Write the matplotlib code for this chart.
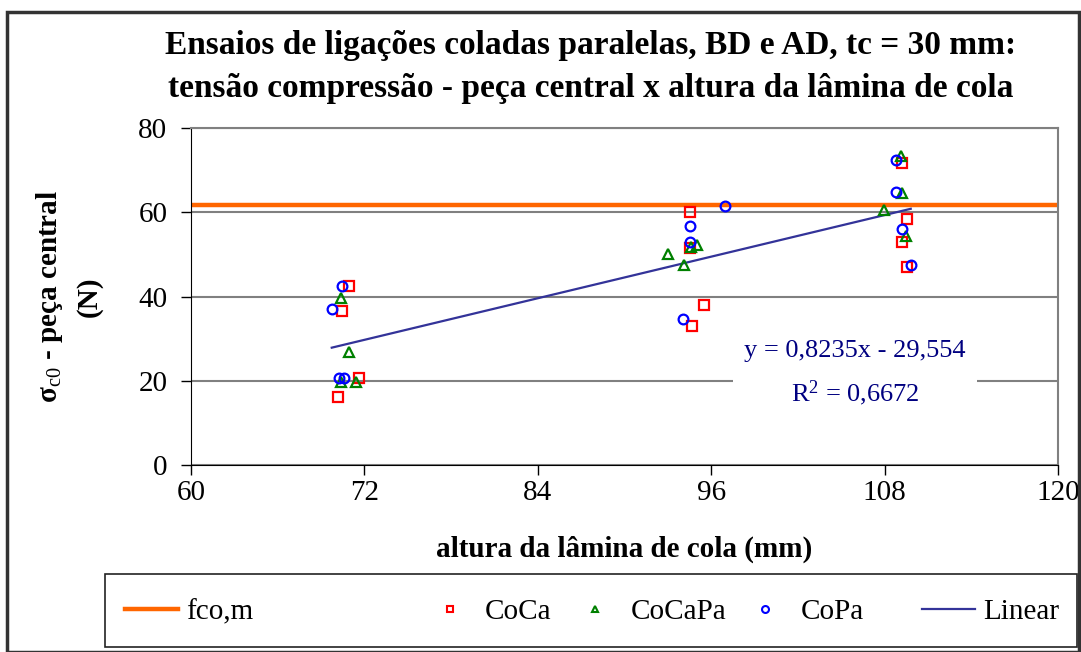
import matplotlib
matplotlib.use("Agg")
import matplotlib.pyplot as plt
from matplotlib.lines import Line2D
from matplotlib.patches import Rectangle
import numpy as np

# data
coca_x = [70.91, 70.45, 71.61, 70.17, 94.53, 94.53, 95.52, 94.65, 109.22, 109.53, 109.22, 109.53]
coca_y = [42.5, 36.6, 20.7, 16.2, 60.0, 51.5, 38.1, 33.1, 71.8, 58.4, 52.9, 47.0]
cocapa_x = [70.38, 70.95, 70.38, 71.40, 94.58, 95.04, 93.03, 94.14, 109.13, 109.18, 107.98, 109.48]
cocapa_y = [39.7, 26.8, 19.8, 19.8, 51.7, 52.2, 50.1, 47.6, 73.4, 64.6, 60.6, 54.5]
copa_x = [70.43, 69.74, 70.26, 70.61, 96.98, 94.51, 94.51, 94.07, 108.77, 108.77, 109.20, 109.81]
copa_y = [42.5, 37.0, 20.6, 20.6, 61.5, 56.9, 53.0, 34.6, 72.5, 64.9, 56.0, 47.5]
fco_m = 61.7
slope, intercept, r2 = 0.8235, -29.554, 0.6672

plt.rcParams['font.family'] = ['Liberation Serif', 'DejaVu Serif']
plt.rcParams['mathtext.fontset'] = 'custom'
plt.rcParams['mathtext.rm'] = 'Liberation Serif'
plt.rcParams['mathtext.bf'] = 'Liberation Serif:bold'
plt.rcParams['mathtext.it'] = 'Liberation Serif:italic'

fig = plt.figure(figsize=(10.81, 6.52), dpi=100)
ax = fig.add_axes([191/1081, 1-465/652, (1058-191)/1081, (465-128.3)/652])

ax.set_xlim(60, 120)
ax.set_ylim(0, 80)
ax.set_xticks(np.arange(60, 121, 12))
ax.set_yticks(np.arange(0, 81, 20))
ax.yaxis.grid(True, color='#808080', linewidth=1.5)
ax.set_axisbelow(True)
ax.tick_params(direction='out', length=7, width=1, labelsize=21)
ax.tick_params(axis='x', pad=4)
ax.tick_params(axis='y', pad=10)
for s in ['top', 'right']:
    ax.spines[s].set_color('#808080')
    ax.spines[s].set_linewidth(1.5)

ax.axhline(fco_m, color='#FF6600', linewidth=3.2, zorder=2)

mk = dict(linestyle='none', markerfacecolor='none', markersize=7, markeredgewidth=1.6, zorder=4)
ax.plot(coca_x, coca_y, marker='s', markeredgecolor='#FF0000', **mk)
ax.plot(cocapa_x, cocapa_y, marker='^', markeredgecolor='#008000', **mk)
ax.plot(copa_x, copa_y, marker='o', markeredgecolor='#0000FF', **mk)

# trend line over the x-range of all samples
all_x = np.array(coca_x + cocapa_x + copa_x)
lx = np.array([all_x.min(), all_x.max()])
ax.plot(lx, slope*lx + intercept, color='#333399', linewidth=1.6, zorder=3)

ax.text(105.95, 21.6, "y = 0,8235x - 29,554\nR$^2$ = 0,6672", color='#000080', fontsize=19,
        ha='center', va='center', linespacing=1.75, zorder=5,
        bbox=dict(facecolor='white', edgecolor='none', pad=8))

ax.set_xlabel("altura da lâmina de cola (mm)", fontsize=21, fontweight='bold', labelpad=21)
ax.set_ylabel("$\\mathbf{\\sigma}_{\\mathrm{c0}}$ - peça central\n(N)", fontsize=21,
              fontweight='bold', multialignment='center', linespacing=1.5)
ax.yaxis.set_label_coords(-0.1015, 0.5)

fig.text(591/1081, 1-67/652, "Ensaios de ligações coladas paralelas, BD e AD, tc = 30 mm:\n"
         "tensão compressão - peça central x altura da lâmina de cola",
         ha='center', va='center', fontsize=24, fontweight='bold', linespacing=1.5)

# outer chart border and legend box
fig.patches.append(Rectangle((7/1081, 0), 1072/1081, 1-12/652, transform=fig.transFigure,
                             fill=False, edgecolor='#333333', linewidth=2.5))
fig.patches.append(Rectangle((105/1081, 1-647/652), 972/1081, 73/652, transform=fig.transFigure,
                             fill=False, edgecolor='#222222', linewidth=1.2))

entries = [
    (Line2D([], [], color='#FF6600', linewidth=3.2), "fco,m", 125),
    (Line2D([], [], marker='s', linestyle='none', markerfacecolor='none', markeredgecolor='#FF0000',
            markersize=5, markeredgewidth=1.5), "CoCa", 424),
    (Line2D([], [], marker='^', linestyle='none', markerfacecolor='none', markeredgecolor='#008000',
            markersize=5, markeredgewidth=1.5), "CoCaPa", 569),
    (Line2D([], [], marker='o', linestyle='none', markerfacecolor='none', markeredgecolor='#0000FF',
            markersize=5, markeredgewidth=1.5), "CoPa", 739),
    (Line2D([], [], color='#333399', linewidth=1.6), "Linear", 922),
]
for h, lab, px in entries:
    fig.legend(handles=[h], labels=[lab], loc='center left', bbox_to_anchor=(px/1081, 1-612/652),
               frameon=False, fontsize=21, handlelength=1.8, handletextpad=0.3, borderpad=0,
               borderaxespad=0)

fig.savefig("out.png", dpi=100)
